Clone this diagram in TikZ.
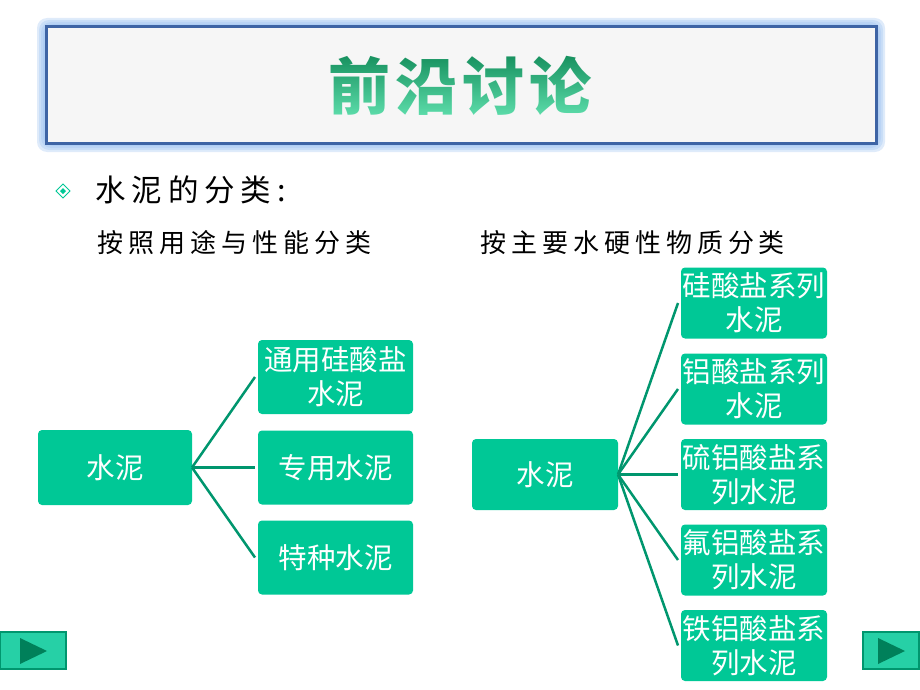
\documentclass[tikz,border=0pt]{standalone}
\usepackage{fontspec}
\setmainfont{Noto Sans CJK SC}
\newfontfamily\cjkwide[LetterSpace=19]{Noto Sans CJK SC}
\newfontfamily\cjktitle[LetterSpace=8]{Noto Sans CJK SC}
\usetikzlibrary{fadings}

\definecolor{boxgreen}{RGB}{0,200,150}
\definecolor{linegreen}{RGB}{0,150,110}
\definecolor{darkgreen}{RGB}{0,128,90}
\definecolor{framblue}{RGB}{62,100,165}
\definecolor{glowblue}{RGB}{150,190,240}
\definecolor{titletop}{RGB}{0,120,70}
\definecolor{titlebot}{RGB}{120,250,200}

\tikzstyle{cement}=[fill=boxgreen, text=white, rounded corners=4pt, inner sep=0pt, outer sep=0pt, align=center, font=\fontsize{28.5}{34}\selectfont]
\tikzstyle{branch}=[draw=linegreen, line width=2.5pt]
\tikzstyle{navbutton}=[fill=boxgreen!85!white, draw=linegreen, line width=2pt]

\begin{tikzfadingfrompicture}[name=titlefade]
  \node[text=transparent!0, font=\cjktitle\bfseries\fontsize{62}{62}\selectfont] {前沿讨论};
\end{tikzfadingfrompicture}

\begin{document}
\begin{tikzpicture}[x=1pt,y=-1pt]
    \useasboundingbox (0,0) rectangle (920,690);

    % Title
    \foreach \g in {9,7,5,3}
        \fill[glowblue, opacity=.3, rounded corners=10pt] (46-\g,27-\g) rectangle (876+\g,143+\g);
    \draw[fill=gray!7, draw=framblue, line width=3pt] (46,27) rectangle (876,143);
    \shade[top color=titletop, bottom color=titlebot, path fading=titlefade, fit fading=false,
        fading transform={shift={(460,86)}}] (300,35) rectangle (620,140);

    % Heading
    \draw[boxgreen, line width=1pt] (63,184) -- (70,191) -- (63,198) -- (56,191) -- cycle;
    \fill[boxgreen] (63,188) -- (66,191) -- (63,194) -- (60,191) -- cycle;
    \draw (92,190) node[anchor=west, font=\cjkwide\fontsize{30.5}{30}\selectfont] (head) {水泥的分类:};
    \draw (94,243) node[anchor=west, font=\cjkwide\fontsize{26}{26}\selectfont] (byuse) {按照用途与性能分类};
    \draw (477,243) node[anchor=west, font=\cjkwide\fontsize{26}{26}\selectfont] (byphase) {按主要水硬性物质分类};

    % Left tree
    \draw (115,467.5) node[cement, minimum width=154pt, minimum height=75pt] (lroot) {水泥};
    \draw (335.5,377) node[cement, minimum width=155pt, minimum height=74pt] (general) {通用硅酸盐\\水泥};
    \draw (335.5,467.5) node[cement, minimum width=155pt, minimum height=74pt] (special) {专用水泥};
    \draw (335.5,557.5) node[cement, minimum width=155pt, minimum height=74pt] (particular) {特种水泥};
    \foreach \c in {general,special,particular}
        \draw[branch] (lroot.east) -- ([xshift=-3pt]\c.west);

    % Right tree
    \draw (545,474.5) node[cement, minimum width=146pt, minimum height=71pt] (rroot) {水泥};
    \draw (754,303) node[cement, minimum width=146pt, minimum height=71pt] (silicate) {硅酸盐系列\\水泥};
    \draw (754,389) node[cement, minimum width=146pt, minimum height=71pt] (aluminate) {铝酸盐系列\\水泥};
    \draw (754,474.5) node[cement, minimum width=146pt, minimum height=71pt] (sulfo) {硫铝酸盐系\\列水泥};
    \draw (754,560) node[cement, minimum width=146pt, minimum height=71pt] (fluoro) {氟铝酸盐系\\列水泥};
    \draw (754,645.5) node[cement, minimum width=146pt, minimum height=71pt] (ferro) {铁铝酸盐系\\列水泥};
    \foreach \c in {silicate,aluminate,sulfo,fluoro,ferro}
        \draw[branch] (rroot.east) -- ([xshift=-3pt]\c.west);

    % Navigation
    \draw[navbutton] (0,632) rectangle (66,669);
    \fill[darkgreen] (20,638) -- (47,651) -- (20,664) -- cycle;
    \draw[navbutton] (863,632) rectangle (919,669);
    \fill[darkgreen] (878,638) -- (905,651) -- (878,664) -- cycle;

\end{tikzpicture}
\end{document}
